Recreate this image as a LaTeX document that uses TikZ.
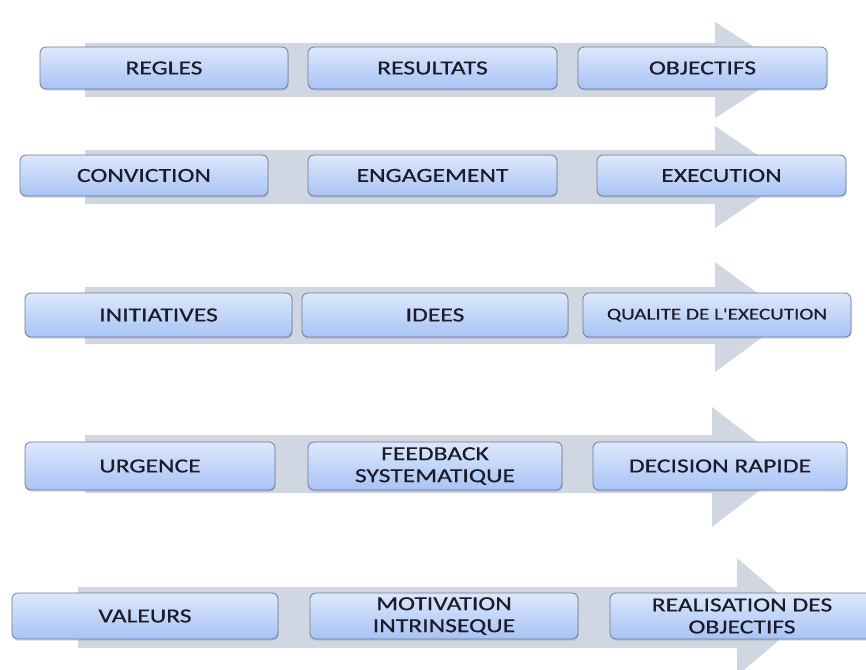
\documentclass[tikz,border=0pt]{standalone}
\usepackage{fontspec}
\setmainfont{Carlito}
\newfontfamily\lblfont{Carlito}[FakeBold=0.35]
\usetikzlibrary{shadows}
\definecolor{bandgray}{HTML}{D0D6E2}
\definecolor{boxtop}{HTML}{DDE8FC}
\definecolor{boxbottom}{HTML}{A8C3F5}
\definecolor{boxline}{HTML}{6F7C93}
\definecolor{labelink}{HTML}{1A1A28}
% labels are set slightly widened
\newcommand{\stretchlbl}[1]{\scalebox{1.28}[1]{#1}}
\tikzset{
  stepbox/.style={draw=boxline, line width=0.8pt, rounded corners=6pt,
    top color=boxtop, bottom color=boxbottom, text=labelink,
    font=\lblfont\fontsize{20}{22}\selectfont, align=center, inner sep=0pt,
    drop shadow={shadow xshift=0.6pt, shadow yshift=-1.6pt, opacity=0.3}},
  smalltext/.style={font=\lblfont\fontsize{16.5}{18}\selectfont},
  band/.style={fill=bandgray, draw=none}
}
\begin{document}
\begin{tikzpicture}[x=1pt,y=-1pt]
\useasboundingbox (0,0) rectangle (866,669);
\clip (0,0) rectangle (866,669);

% wide arrows behind each row: (left, band top, band bottom, head base, head top, head bottom, tip)
\fill[band] (85,43) -- (715,43) -- (715,22) -- (790,70) -- (715,118) -- (715,97) -- (85,97) -- cycle;
\fill[band] (85,150) -- (715,150) -- (715,126) -- (790,177) -- (715,228) -- (715,204) -- (85,204) -- cycle;
\fill[band] (85,287) -- (715,287) -- (715,262) -- (790,317) -- (715,372) -- (715,344) -- (85,344) -- cycle;
\fill[band] (85,435) -- (712,435) -- (712,407) -- (790,467) -- (712,527) -- (712,493) -- (85,493) -- cycle;
\fill[band] (78,587) -- (737,587) -- (737,558) -- (806,617) -- (737,676) -- (737,648) -- (78,648) -- cycle;

% row 1
\node[stepbox, minimum width=248pt, minimum height=42pt] (regles) at (164,68) {\stretchlbl{REGLES}};
\node[stepbox, minimum width=249pt, minimum height=42pt] (resultats) at (432.5,68) {\stretchlbl{RESULTATS}};
\node[stepbox, minimum width=249pt, minimum height=42pt] (objectifs) at (702.5,68) {\stretchlbl{OBJECTIFS}};

% row 2
\node[stepbox, minimum width=248pt, minimum height=41pt] (conviction) at (144,175.5) {\stretchlbl{CONVICTION}};
\node[stepbox, minimum width=249pt, minimum height=41pt] (engagement) at (432.5,175.5) {\stretchlbl{ENGAGEMENT}};
\node[stepbox, minimum width=249pt, minimum height=41pt] (execution) at (721.5,175.5) {\stretchlbl{EXECUTION}};

% row 3
\node[stepbox, minimum width=267pt, minimum height=44pt] (initiatives) at (158.5,315) {\stretchlbl{INITIATIVES}};
\node[stepbox, minimum width=266pt, minimum height=44pt] (idees) at (435,315) {\stretchlbl{IDEES}};
\node[stepbox, smalltext, minimum width=268pt, minimum height=44pt] (qualite) at (717,315) {\stretchlbl{QUALITE DE L\textquotesingle EXECUTION}};

% row 4
\node[stepbox, minimum width=250pt, minimum height=48pt] (urgence) at (150,466) {\stretchlbl{URGENCE}};
\node[stepbox, minimum width=254pt, minimum height=48pt] (feedback) at (435,466) {\stretchlbl{FEEDBACK}\\\stretchlbl{SYSTEMATIQUE}};
\node[stepbox, minimum width=254pt, minimum height=48pt] (decision) at (720,466) {\stretchlbl{DECISION RAPIDE}};

% row 5
\node[stepbox, minimum width=266pt, minimum height=46pt] (valeurs) at (145,616) {\stretchlbl{VALEURS}};
\node[stepbox, minimum width=268pt, minimum height=46pt] (motivation) at (444,616) {\stretchlbl{MOTIVATION}\\\stretchlbl{INTRINSEQUE}};
\node[stepbox, minimum width=264pt, minimum height=46pt] (realisation) at (742,616) {\stretchlbl{REALISATION DES}\\\stretchlbl{OBJECTIFS}};
\end{tikzpicture}
\end{document}
